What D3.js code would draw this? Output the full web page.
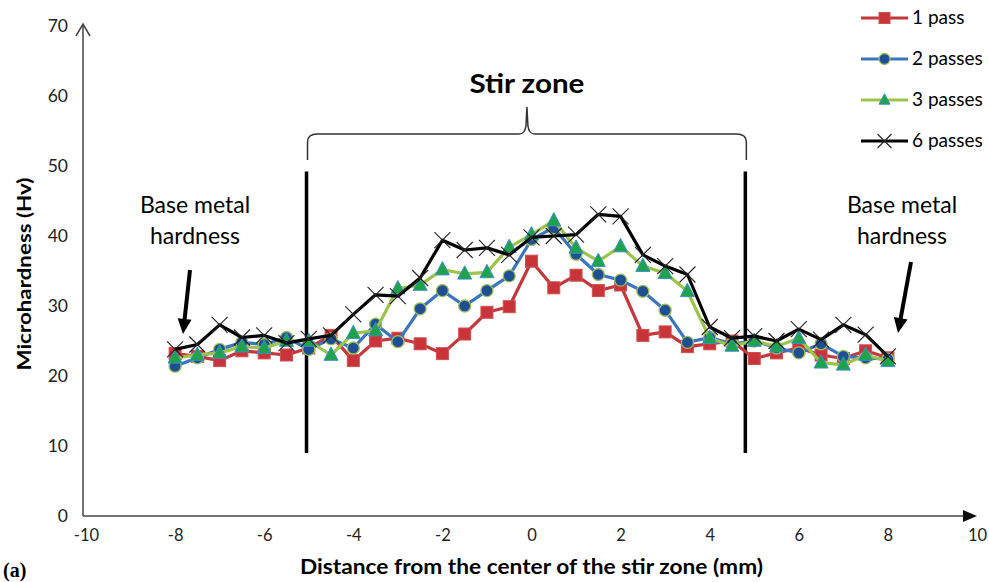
<!DOCTYPE html>
<html>
<head>
<meta charset="utf-8">
<script src="https://cdn.jsdelivr.net/npm/d3@7.9.0/dist/d3.min.js"></script>
<style>
  html, body { margin: 0; padding: 0; background: #fff; }
  svg { display: block; font-family: Lato, "Open Sans", sans-serif; }
</style>
</head>
<body>
<svg id="chart" width="989" height="582"></svg>
<script>
// ─── Data ───────────────────────────────────────────────────────────────────
const distances = [-8, -7.5, -7, -6.5, -6, -5.5, -5, -4.5, -4, -3.5, -3, -2.5, -2, -1.5, -1, -0.5,
  0, 0.5, 1, 1.5, 2, 2.5, 3, 3.5, 4, 4.5, 5, 5.5, 6, 6.5, 7, 7.5, 8];

const pass1 = [23.2, 22.8, 22.2, 23.6, 23.3, 23.0, 24.0, 25.8, 22.2, 25.0, 25.4, 24.6, 23.2, 26.0, 29.1, 29.9,
  36.4, 32.6, 34.4, 32.2, 33.0, 25.8, 26.3, 24.2, 24.6, 25.0, 22.5, 23.3, 24.0, 23.0, 22.5, 23.6, 22.6];
const passes2 = [21.4, 22.6, 23.8, 24.8, 24.5, 25.5, 23.8, 25.3, 24.0, 27.4, 24.9, 29.6, 32.2, 30.0, 32.2, 34.3,
  39.5, 41.2, 37.4, 34.5, 33.7, 32.1, 29.4, 24.8, 25.5, 24.6, 25.0, 24.0, 23.3, 24.6, 22.8, 22.6, 22.4];
const passes3 = [22.6, 23.0, 23.3, 24.2, 24.0, 25.0, 25.0, 23.0, 26.1, 26.5, 32.5, 33.0, 35.2, 34.6, 34.8, 38.4,
  40.2, 42.2, 38.3, 36.4, 38.5, 35.7, 34.7, 32.1, 25.4, 24.3, 25.0, 24.2, 25.4, 21.9, 21.6, 23.0, 22.1];
const passes6 = [23.8, 24.5, 27.3, 25.5, 25.8, 24.7, 25.3, 25.8, 28.8, 31.6, 31.4, 34.0, 39.4, 38.0, 38.3, 37.3,
  39.8, 40.0, 40.2, 43.1, 42.8, 37.3, 35.7, 34.5, 27.0, 25.4, 25.7, 25.0, 26.7, 25.2, 27.3, 25.9, 22.8];

const seriesNames = ['1 pass', '2 passes', '3 passes', '6 passes'];
const seriesValues = [pass1, passes2, passes3, passes6];

const xTicks = [-10, -8, -6, -4, -2, 0, 2, 4, 6, 8, 10];
const yTicks = [0, 10, 20, 30, 40, 50, 60, 70];

// stir zone boundaries (mm) and the extent of the boundary bars (Hv)
const stirZone = [-5.05, 4.8];
const barRange = [9, 49.2];

// ─── Styling per series ─────────────────────────────────────────────────────
const styles = [
  { line: '#c4373a', marker: 'square', fill: '#c8343a', stroke: '#d0504e' },
  { line: '#3a75bf', marker: 'circle', fill: '#1f4f93', stroke: '#9cc05a' },
  { line: '#9bc54a', marker: 'triangle', fill: '#1ea24a', stroke: '#3d8ed0' },
  { line: '#000000', marker: 'cross', fill: 'none', stroke: '#222' }
];

const svg = d3.select('#chart');

const x = d3.scaleLinear().domain([-10, 10]).range([86, 977]);
const y = d3.scaleLinear().domain([0, 70]).range([516, 26]);

// ─── Axes ───────────────────────────────────────────────────────────────────
const yAxis = svg.append('g')
  .attr('transform', `translate(${x(-10) - 3},0)`)
  .call(d3.axisLeft(y).tickValues(yTicks).tickSize(0).tickPadding(15).tickFormat(d => String(d)));
yAxis.select('.domain').remove();
yAxis.selectAll('text').attr('font-size', 17.5).attr('fill', '#222').attr('font-family', 'Lato, sans-serif');

const xAxis = svg.append('g')
  .attr('transform', `translate(0,${y(0)})`)
  .call(d3.axisBottom(x).tickValues(xTicks).tickSize(0).tickPadding(13).tickFormat(d => String(d)));
xAxis.select('.domain').remove();
xAxis.selectAll('text').attr('font-size', 16.5).attr('fill', '#222').attr('font-family', 'Lato, sans-serif');

const ax0 = x(-10) - 3;
// y axis line + open arrow at top
svg.append('line').attr('x1', ax0).attr('x2', ax0).attr('y1', y(0)).attr('y2', y(70) - 2)
  .attr('stroke', '#444').attr('stroke-width', 1.5);
svg.append('path')
  .attr('d', `M${ax0 - 7},${y(70) + 10} L${ax0},${y(70) - 2} L${ax0 + 7},${y(70) + 10}`)
  .attr('fill', 'none').attr('stroke', '#444').attr('stroke-width', 1.5);
// x axis line + filled arrow at right
svg.append('line').attr('x1', ax0).attr('x2', x(10) - 10).attr('y1', y(0)).attr('y2', y(0))
  .attr('stroke', '#444').attr('stroke-width', 1.5);
svg.append('path')
  .attr('d', `M${x(10) - 14},${y(0) - 6} L${x(10)},${y(0)} L${x(10) - 14},${y(0) + 6} Z`)
  .attr('fill', '#111');

// axis titles
svg.append('text')
  .attr('x', x(0)).attr('y', 574)
  .attr('text-anchor', 'middle')
  .attr('font-size', 21).attr('font-weight', 'bold')
  .attr('textLength', 463).attr('lengthAdjust', 'spacingAndGlyphs')
  .text('Distance from the center of the stir zone (mm)');
svg.append('text')
  .attr('transform', `translate(31,${y(35) + 3}) rotate(-90)`)
  .attr('text-anchor', 'middle')
  .attr('font-size', 19).attr('font-weight', 'bold')
  .attr('textLength', 193).attr('lengthAdjust', 'spacingAndGlyphs')
  .text('Microhardness (Hv)');
svg.append('text')
  .attr('x', 3).attr('y', 577)
  .attr('font-family', '"Liberation Serif", "DejaVu Serif", serif')
  .attr('font-size', 20).attr('font-weight', 'bold')
  .text('(a)');

// ─── Annotations ────────────────────────────────────────────────────────────
stirZone.forEach(d => {
  svg.append('line')
    .attr('x1', x(d)).attr('x2', x(d))
    .attr('y1', y(barRange[0])).attr('y2', y(barRange[1]))
    .attr('stroke', '#000').attr('stroke-width', 3.5);
});

// curly brace over the stir zone
const bl = x(stirZone[0]) + 1, br = x(stirZone[1]) + 1, bm = (bl + br) / 2;
const by = 134, bEnd = 160, bTip = 107;
svg.append('path')
  .attr('d', `M${bl},${bEnd} L${bl},${by + 8} Q${bl},${by} ${bl + 10},${by}
    L${bm - 8},${by} Q${bm - 2},${by} ${bm - 1},${by - 8} L${bm},${bTip}
    L${bm + 1},${by - 8} Q${bm + 2},${by} ${bm + 8},${by}
    L${br - 10},${by} Q${br},${by} ${br},${by + 8} L${br},${bEnd}`)
  .attr('fill', 'none').attr('stroke', '#333').attr('stroke-width', 1.5);

svg.append('text')
  .attr('x', bm).attr('y', 93)
  .attr('text-anchor', 'middle')
  .attr('font-size', 27).attr('font-weight', 'bold')
  .attr('textLength', 115).attr('lengthAdjust', 'spacingAndGlyphs')
  .text('Stir zone');

// base metal hardness notes
const notes = [
  { cx: 195, lines: ['Base metal', 'hardness'], arrow: [190, 270, 183, 334] },
  { cx: 902, lines: ['Base metal', 'hardness'], arrow: [911, 262, 898, 333] }
];
notes.forEach(n => {
  n.lines.forEach((t, i) => {
    svg.append('text')
      .attr('x', n.cx).attr('y', 213 + i * 31)
      .attr('text-anchor', 'middle')
      .attr('font-size', 23)
      .text(t);
  });
  const [x1, y1, x2, y2] = n.arrow;
  const ang = Math.atan2(y2 - y1, x2 - x1);
  const hl = 15, hw = 7;
  svg.append('line')
    .attr('x1', x1).attr('y1', y1)
    .attr('x2', x2 - Math.cos(ang) * hl * 0.8).attr('y2', y2 - Math.sin(ang) * hl * 0.8)
    .attr('stroke', '#000').attr('stroke-width', 4);
  const bx = x2 - Math.cos(ang) * hl, byy = y2 - Math.sin(ang) * hl;
  svg.append('path')
    .attr('d', `M${x2},${y2} L${bx - Math.sin(ang) * hw},${byy + Math.cos(ang) * hw} L${bx + Math.sin(ang) * hw},${byy - Math.cos(ang) * hw} Z`)
    .attr('fill', '#000');
});

// ─── Series ─────────────────────────────────────────────────────────────────
function drawMarker(g, kind, st, cx, cy, s) {
  if (kind === 'square') {
    g.append('rect').attr('x', cx - s / 2).attr('y', cy - s / 2).attr('width', s).attr('height', s)
      .attr('fill', st.fill).attr('stroke', st.stroke).attr('stroke-width', 1);
  } else if (kind === 'circle') {
    g.append('circle').attr('cx', cx).attr('cy', cy).attr('r', s / 2)
      .attr('fill', st.fill).attr('stroke', st.stroke).attr('stroke-width', 1.3);
  } else if (kind === 'triangle') {
    const h = s * 0.95;
    g.append('path')
      .attr('d', `M${cx},${cy - h * 0.6} L${cx + s / 2},${cy + h * 0.4} L${cx - s / 2},${cy + h * 0.4} Z`)
      .attr('fill', st.fill).attr('stroke', st.stroke).attr('stroke-width', 1);
  } else {
    const r = s / 2;
    g.append('path')
      .attr('d', `M${cx - r},${cy - r} L${cx + r},${cy + r} M${cx - r},${cy + r} L${cx + r},${cy - r}`)
      .attr('stroke', st.stroke).attr('stroke-width', 1.1).attr('fill', 'none');
  }
}

const markerSize = [12, 12, 14, 16];

const line = d3.line().x(d => x(d[0])).y(d => y(d[1]));

seriesValues.forEach((vals, si) => {
  const st = styles[si];
  const pts = distances.map((d, i) => [d, vals[i]]);
  const g = svg.append('g');
  g.append('path')
    .attr('d', line(pts))
    .attr('fill', 'none')
    .attr('stroke', st.line)
    .attr('stroke-width', 3.2)
    .attr('stroke-linejoin', 'round');
  pts.forEach(p => drawMarker(g, st.marker, st, x(p[0]), y(p[1]), markerSize[si]));
});

// ─── Legend ─────────────────────────────────────────────────────────────────
const legend = svg.append('g');
seriesNames.forEach((name, i) => {
  const ly = 18 + i * 41;
  const st = styles[i];
  legend.append('line').attr('x1', 861).attr('x2', 908).attr('y1', ly).attr('y2', ly)
    .attr('stroke', st.line).attr('stroke-width', 3.2);
  drawMarker(legend, st.marker, st, 884.5, ly, i === 3 ? 14 : 11);
  legend.append('text')
    .attr('x', 912).attr('y', ly + 6)
    .attr('font-size', 19)
    .text(name);
});
</script>
</body>
</html>
